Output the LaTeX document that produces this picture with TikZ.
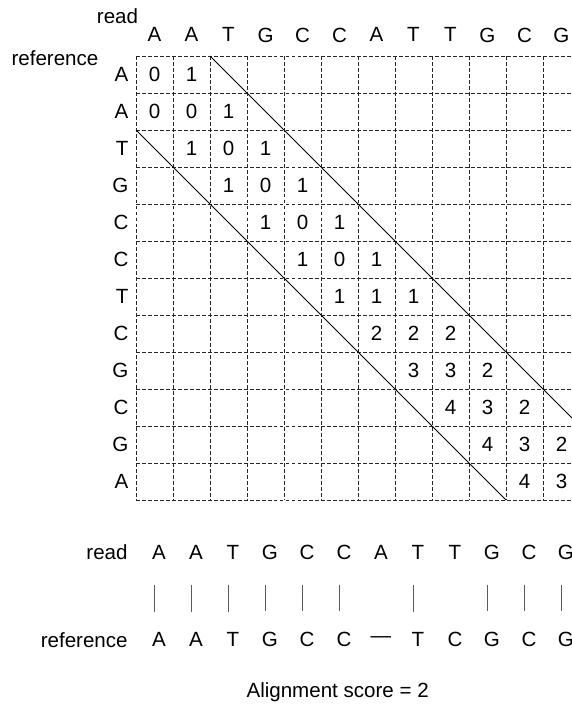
\documentclass[tikz,border=0pt]{standalone}
\usepackage{fontspec}
\setmainfont{Liberation Sans}
\usetikzlibrary{positioning, calc}

\begin{document}
\begin{tikzpicture}[
  every node/.style={font=\fontsize{15.8}{18}\selectfont, inner sep=0pt},
  gridline/.style={dash pattern=on 3pt off 1.6pt, line width=0.7pt, black!85},
  bandline/.style={line width=0.6pt},
  matchbar/.style={line width=0.8pt, black!65}
]
\useasboundingbox (-3.676,1.514) rectangle (11.784,-17.568);
\clip (-3.676,1.514) rectangle (11.784,-17.568);

%--------------------------------------
% Dashed score matrix
%--------------------------------------
\foreach \k in {0,...,12} {
  \draw[gridline] (\k,0) -- (\k,-12);
  \draw[gridline] (0,-\k) -- (12,-\k);
}

% Sequence labels
\node (readtop) at (-0.5,1.09) {read};
\node (reftop) at (-2.19,-0.05) {reference};
\foreach \b [count=\j from 0] in {A,A,T,G,C,C,A,T,T,G,C,G}
  \node (col\j) at (\j+0.5,0.57) {\b};
\foreach \b [count=\i from 0] in {A,A,T,G,C,C,T,C,G,C,G,A}
  \node[anchor=east] (row\i) at (-0.2,-\i-0.5) {\b};

% Cell values inside the band
\foreach \i/\j/\v in {0/0/0, 0/1/1, 1/0/0, 1/1/0, 1/2/1, 2/1/1, 2/2/0, 2/3/1,
    3/2/1, 3/3/0, 3/4/1, 4/3/1, 4/4/0, 4/5/1, 5/4/1, 5/5/0, 5/6/1,
    6/5/1, 6/6/1, 6/7/1, 7/6/2, 7/7/2, 7/8/2, 8/7/3, 8/8/3, 8/9/2,
    9/8/4, 9/9/3, 9/10/2, 10/9/4, 10/10/3, 10/11/2, 11/10/4, 11/11/3}
  \node (c\i-\j) at (\j+0.5,-\i-0.5) {\v};

% Band limits
\coordinate (bandtopA) at (2,0);
\coordinate (bandtopB) at (12,-10);
\coordinate (bandlowA) at (0,-2);
\coordinate (bandlowB) at (10,-12);
\draw[bandline] (bandtopA) -- (bandtopB);
\draw[bandline] (bandlowA) -- (bandlowB);

%--------------------------------------
% Resulting alignment
%--------------------------------------
\node[anchor=east] (readbot) at (-0.22,-13.41) {read};
\node[anchor=east] (refbot) at (-0.22,-15.78) {reference};
\foreach \b [count=\j from 0] in {A,A,T,G,C,C,A,T,T,G,C,G}
  \node (r\j) at (\j+0.62,-13.41) {\b};
\foreach \b [count=\j from 0] in {A,A,T,G,C,C,\textemdash,T,C,G,C,G}
  \node (f\j) at (\j+0.62,-15.78) {\b};

\foreach \j in {0,1,2,3,4,5,7,9,10,11}
  \draw[matchbar] ([xshift=-0.12cm, yshift=-0.695cm]r\j.south) -- ([xshift=-0.12cm, yshift=0.565cm]f\j.north);

\node (score) at (5.45,-17.2) {Alignment score = 2};

\end{tikzpicture}
\end{document}
